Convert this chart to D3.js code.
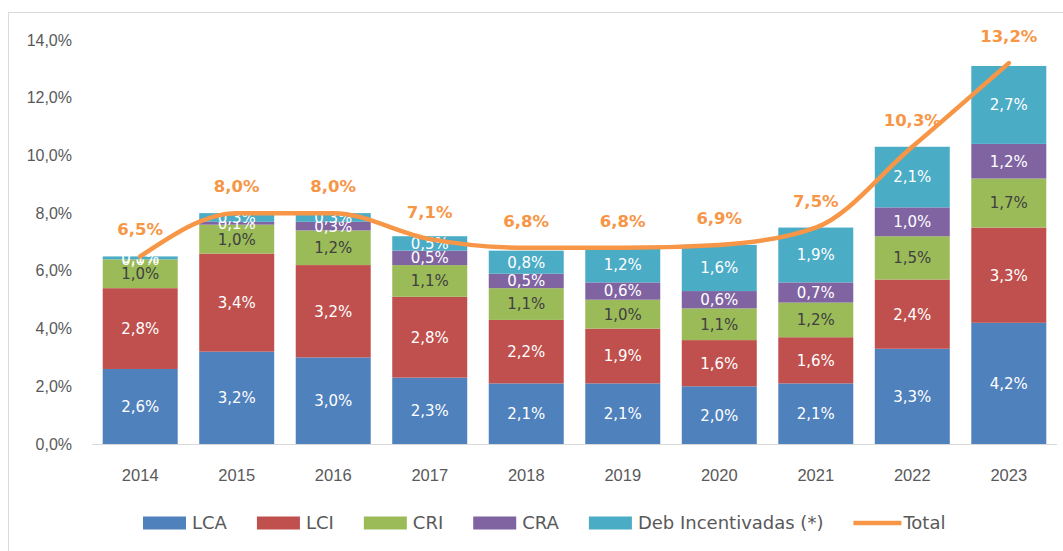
<!DOCTYPE html>
<html>
<head>
<meta charset="utf-8">
<script src="https://cdn.jsdelivr.net/npm/d3@7"></script>
<style>
  body { margin: 0; background: #fff; }
  svg { font-family: "DejaVu Sans", "Liberation Sans", sans-serif; }
</style>
</head>
<body>
<script>
// values (% of something, one decimal)
var years = ["2014", "2015", "2016", "2017", "2018", "2019", "2020", "2021", "2022", "2023"];
var lca = [2.6, 3.2, 3.0, 2.3, 2.1, 2.1, 2.0, 2.1, 3.3, 4.2];
var lci = [2.8, 3.4, 3.2, 2.8, 2.2, 1.9, 1.6, 1.6, 2.4, 3.3];
var cri = [1.0, 1.0, 1.2, 1.1, 1.1, 1.0, 1.1, 1.2, 1.5, 1.7];
var cra = [0.0, 0.1, 0.3, 0.5, 0.5, 0.6, 0.6, 0.7, 1.0, 1.2];
var deb = [0.1, 0.3, 0.3, 0.5, 0.8, 1.2, 1.6, 1.9, 2.1, 2.7];
var total = [6.5, 8.0, 8.0, 7.1, 6.8, 6.8, 6.9, 7.5, 10.3, 13.2];
var yTicks = [0, 2, 4, 6, 8, 10, 12, 14];

var series = [
  { key: "LCA", values: lca, color: "#4F81BD", label: "#ffffff" },
  { key: "LCI", values: lci, color: "#C0504D", label: "#ffffff" },
  { key: "CRI", values: cri, color: "#9BBB59", label: "#404040" },
  { key: "CRA", values: cra, color: "#8064A2", label: "#ffffff" },
  { key: "Deb Incentivadas (*)", values: deb, color: "#4BACC6", label: "#ffffff" }
];
var totalColor = "#F79646";

var fmt = function (v) { return v.toFixed(1).replace(".", ",") + "%"; };

var W = 1063, H = 551;
var svg = d3.select("body").append("svg")
    .attr("width", W)
    .attr("height", H);

// chart frame
svg.append("rect")
    .attr("x", 8.5).attr("y", 12.5)
    .attr("width", 1100).attr("height", 600)
    .attr("fill", "none")
    .attr("stroke", "#d9d9d9");

var xScale = d3.scaleBand()
    .domain(years)
    .range([92, 1057])
    .paddingInner(0.223)
    .paddingOuter(0.111);

var yScale = d3.scaleLinear()
    .domain([0, 14])
    .range([444, 40]);

// y labels only, no axis line
var yAxis = svg.append("g")
    .attr("transform", "translate(72,0)")
    .call(d3.axisLeft(yScale).tickValues(yTicks).tickSize(0).tickPadding(0).tickFormat(fmt));
yAxis.select(".domain").remove();
yAxis.selectAll("text")
    .attr("fill", "#595959")
    .style("font-size", "16px");

// stacked data
var rows = years.map(function (y, i) {
    var r = { year: y };
    series.forEach(function (s) { r[s.key] = s.values[i]; });
    return r;
});
var stack = d3.stack().keys(series.map(function (s) { return s.key; }));
var layers = stack(rows);

var layerG = svg.selectAll(".layer")
    .data(layers)
    .enter().append("g")
    .attr("class", "layer")
    .attr("fill", function (d, i) { return series[i].color; });

layerG.selectAll("rect")
    .data(function (d) { return d; })
    .enter().append("rect")
    .attr("x", function (d) { return xScale(d.data.year); })
    .attr("y", function (d) { return yScale(d[1]); })
    .attr("width", xScale.bandwidth())
    .attr("height", function (d) { return yScale(d[0]) - yScale(d[1]); });

// x axis baseline + year labels
var xAxis = svg.append("g")
    .attr("transform", "translate(0," + yScale(0) + ")")
    .call(d3.axisBottom(xScale).tickSize(0).tickPadding(25));
xAxis.select(".domain")
    .attr("stroke", "#d9d9d9")
    .attr("d", "M92,0.5H1057");
xAxis.selectAll("text")
    .attr("fill", "#595959")
    .style("font-size", "16.5px");

// segment labels
layerG.each(function (layer, li) {
    d3.select(this).selectAll("text")
        .data(layer)
        .enter().append("text")
        .attr("x", function (d) { return xScale(d.data.year) + xScale.bandwidth() / 2; })
        .attr("y", function (d) { return (yScale(d[0]) + yScale(d[1])) / 2; })
        .attr("dy", "0.36em")
        .attr("text-anchor", "middle")
        .attr("fill", series[li].label)
        .style("font-size", "15px")
        .text(function (d) { return fmt(d[1] - d[0]); });
});

// total line
var line = d3.line()
    .x(function (d, i) { return xScale(years[i]) + xScale.bandwidth() / 2; })
    .y(function (d) { return yScale(d); })
    .curve(d3.curveMonotoneX);

svg.append("path")
    .datum(total)
    .attr("fill", "none")
    .attr("stroke", totalColor)
    .attr("stroke-width", 4.5)
    .attr("stroke-linecap", "round")
    .attr("d", line);

svg.selectAll(".totalLabel")
    .data(total)
    .enter().append("text")
    .attr("class", "totalLabel")
    .attr("x", function (d, i) { return xScale(years[i]) + xScale.bandwidth() / 2; })
    .attr("y", function (d) { return yScale(d) - 21; })
    .attr("text-anchor", "middle")
    .attr("fill", totalColor)
    .style("font-size", "16.5px")
    .style("font-weight", "bold")
    .text(fmt);

// legend
var legend = svg.append("g").attr("transform", "translate(143,523)");
var lx = 0;
series.forEach(function (s) {
    legend.append("rect")
        .attr("x", lx).attr("y", -6.5)
        .attr("width", 43).attr("height", 13)
        .attr("fill", s.color);
    var t = legend.append("text")
        .attr("x", lx + 49).attr("y", 0)
        .attr("dy", "0.36em")
        .attr("fill", "#595959")
        .style("font-size", "18px")
        .text(s.key);
    lx += 49 + t.node().getComputedTextLength() + 30;
});
legend.append("line")
    .attr("x1", lx).attr("x2", lx + 48)
    .attr("y1", 0).attr("y2", 0)
    .attr("stroke", totalColor)
    .attr("stroke-width", 4.5);
legend.append("text")
    .attr("x", lx + 50).attr("y", 0)
    .attr("dy", "0.36em")
    .attr("fill", "#595959")
    .style("font-size", "18px")
    .text("Total");
</script>
</body>
</html>
